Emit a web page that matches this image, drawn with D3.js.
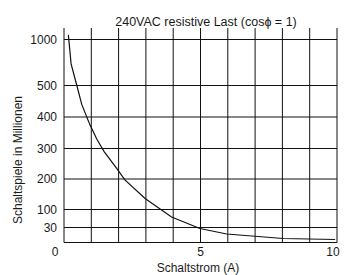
<!DOCTYPE html>
<html>
<head>
<meta charset="utf-8">
<script src="https://cdn.jsdelivr.net/npm/d3@7"></script>
<style>
  body { margin: 0; background: #fff; }
  text { font-family: "Liberation Sans", Arial, sans-serif; fill: #1a1a1a; }
</style>
</head>
<body>
<div id="chart"></div>
<script>
const current = [0.16, 0.26, 0.47, 0.65, 0.95, 1.2, 1.47, 1.93, 2.23, 2.97, 3.94, 4.98, 5.96, 8.03, 9.93];
const cycles  = [1050, 735, 500, 440, 375, 330, 290, 235, 197, 136, 71, 28, 17, 8, 6];
const yTicks = [0, 30, 100, 200, 300, 400, 500, 1000];
const xTicks = [0, 1, 2, 3, 4, 5, 6, 7, 8, 9, 10];
const xLabels = [0, 5, 10];

const width = 345, height = 275;

const svg = d3.select("#chart").append("svg")
    .attr("width", width)
    .attr("height", height);

// x is linear, y axis of the original is not evenly spaced
const x = d3.scaleLinear().domain([0, 10]).range([64, 337]);
const y = d3.scaleLinear()
    .domain(yTicks)
    .range([242.5, 227.5, 209.5, 179, 148.5, 117, 85.5, 39.5]);

const gridTop = 28;

// horizontal grid
svg.selectAll(".hgrid")
    .data(yTicks)
  .enter().append("line")
    .attr("class", "hgrid")
    .attr("x1", x(0)).attr("x2", x(10))
    .attr("y1", d => y(d)).attr("y2", d => y(d))
    .style("stroke", "#111")
    .style("stroke-width", 1);

// vertical grid
svg.selectAll(".vgrid")
    .data(xTicks)
  .enter().append("line")
    .attr("class", "vgrid")
    .attr("x1", d => x(d)).attr("x2", d => x(d))
    .attr("y1", gridTop).attr("y2", y(0))
    .style("stroke", "#111")
    .style("stroke-width", 1);

// curve
const line = d3.line()
    .x(d => x(d[0]))
    .y(d => y(d[1]));

svg.append("path")
    .datum(current.map((c, i) => [c, cycles[i]]))
    .attr("d", line)
    .style("fill", "none")
    .style("stroke", "#111")
    .style("stroke-width", 1.2);

// y tick labels
svg.selectAll(".ylab")
    .data(yTicks.slice(1))
  .enter().append("text")
    .attr("class", "ylab")
    .attr("x", 57)
    .attr("y", d => y(d))
    .attr("dy", "0.36em")
    .style("text-anchor", "end")
    .style("font-size", "12px")
    .text(d => d);

// x tick labels
svg.selectAll(".xlab")
    .data(xLabels)
  .enter().append("text")
    .attr("class", "xlab")
    .attr("x", d => x(d))
    .attr("dx", d => d == 0 ? -9 : (d == 10 ? -4 : 0))
    .attr("y", 256)
    .style("text-anchor", "middle")
    .style("font-size", "12px")
    .text(d => d);

// titles
svg.append("text")
    .attr("x", 206)
    .attr("y", 26)
    .style("text-anchor", "middle")
    .style("font-size", "12.5px")
    .text("240VAC resistive Last (cos\u03d5 = 1)");

svg.append("text")
    .attr("x", 198)
    .attr("y", 272)
    .style("text-anchor", "middle")
    .style("font-size", "12px")
    .text("Schaltstrom (A)");

svg.append("text")
    .attr("transform", "translate(22,160) rotate(-90)")
    .style("text-anchor", "middle")
    .style("font-size", "12px")
    .text("Schaltspiele in Millionen");
</script>
</body>
</html>
